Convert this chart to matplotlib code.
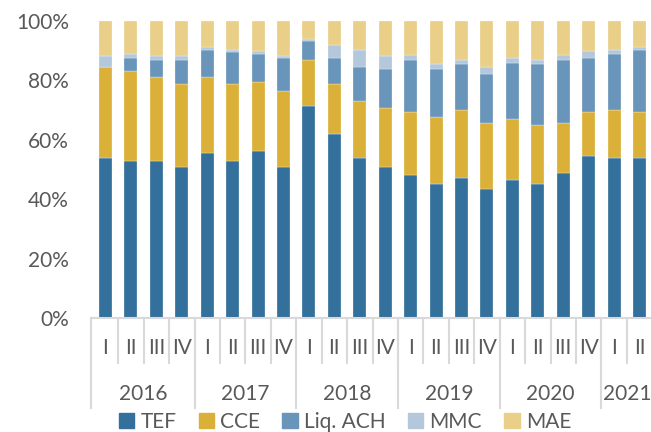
import matplotlib.pyplot as plt
from matplotlib.lines import Line2D
from matplotlib.patches import Patch
import numpy as np

plt.rcParams['font.family'] = ['Lato', 'DejaVu Sans']

quarters = ['I', 'II', 'III', 'IV'] * 5 + ['I', 'II']
years = ['2016', '2017', '2018', '2019', '2020', '2021']
year_sizes = [4, 4, 4, 4, 4, 2]

series = ['TEF', 'CCE', 'Liq. ACH', 'MMC', 'MAE']
tef = [53.8, 53.0, 53.0, 51.0, 55.4, 53.0, 56.1, 51.0, 71.3, 61.9, 53.8,
       51.0, 48.0, 45.0, 47.3, 43.6, 46.5, 45.0, 48.8, 54.6, 53.8, 53.8]
cce = [30.8, 30.1, 28.0, 27.8, 25.6, 25.8, 23.4, 25.5, 15.5, 16.9, 19.2,
       19.7, 21.4, 22.8, 22.9, 22.1, 20.6, 19.9, 16.9, 14.8, 16.4, 15.6]
liq = [0.0, 4.5, 5.8, 8.0, 9.4, 10.8, 9.5, 11.1, 6.6, 8.8, 11.6,
       13.2, 17.4, 16.1, 15.2, 16.6, 18.9, 20.5, 21.1, 18.2, 18.8, 21.0]
mmc = [3.7, 1.4, 1.5, 1.5, 0.7, 0.7, 0.8, 0.7, 0.7, 4.4, 5.8,
       4.4, 1.6, 1.6, 1.4, 2.3, 1.6, 1.4, 1.6, 2.2, 1.4, 0.7]
mae = [11.7, 11.0, 11.7, 11.7, 8.9, 9.7, 10.2, 11.7, 5.9, 8.0, 9.6,
       11.7, 11.6, 14.5, 13.2, 15.4, 12.4, 13.2, 11.6, 10.2, 9.6, 8.9]
colors = ['#33709C', '#DBB038', '#6895B9', '#B3C8DA', '#EACF88']

txt = '#595959'
grid = '#D9D9D9'
fs = 15

fig = plt.figure(figsize=(6.51, 4.32), dpi=100)
ax = fig.add_axes([91 / 651, 114 / 432, 561 / 651, 297 / 432])

x = np.arange(len(quarters))
bottom = np.zeros(len(x))
for name, vals, c in zip(series, [tef, cce, liq, mmc, mae], colors):
    ax.bar(x, vals, 0.51, bottom=bottom, color=c, label=name,
           edgecolor='white', linewidth=0.2)
    bottom += np.array(vals)

x0, x1 = -0.57, len(x) - 0.51
ax.set_xlim(x0, x1)
ax.set_ylim(0, 100)
ax.set_yticks(range(0, 101, 20))
ax.set_yticklabels([f'{v}%' for v in range(0, 101, 20)])
ax.tick_params(axis='y', length=0, pad=16, labelsize=fs, labelcolor=txt)
ax.set_xticks([])
for s in ['top', 'right', 'left']:
    ax.spines[s].set_visible(False)
ax.spines['bottom'].set_color(grid)
ax.spines['bottom'].set_linewidth(1.5)

# two level category axis
trans = ax.get_xaxis_transform()
y_q = -45 / 297
y_y = -90 / 297
for i, q in enumerate(quarters):
    ax.text(i, -30 / 297, q, transform=trans, ha='center', va='center',
            fontsize=fs, color=txt)
    if i > 0:
        ax.add_line(Line2D([i - 0.5, i - 0.5], [0, y_q], transform=trans,
                           color=grid, lw=1.5, clip_on=False))
start = 0
for yr, n in zip(years, year_sizes):
    ax.text(start + (n - 1) / 2, -76 / 297, yr, transform=trans,
            ha='center', va='center', fontsize=fs, color=txt)
    xs = x0 if start == 0 else start - 0.5
    ax.add_line(Line2D([xs, xs], [0, y_y],
                       transform=trans, color=grid, lw=1.5, clip_on=False))
    start += n

handles = [Patch(color=c) for c in colors]
fig.legend(handles, series, loc='center', bbox_to_anchor=(0.53, 0.023),
           ncol=5, frameon=False, fontsize=fs, labelcolor=txt,
           handlelength=0.75, handleheight=0.75, handletextpad=0.3,
           columnspacing=1.05, borderaxespad=0, borderpad=0)

fig.savefig('out.png', dpi=100)
